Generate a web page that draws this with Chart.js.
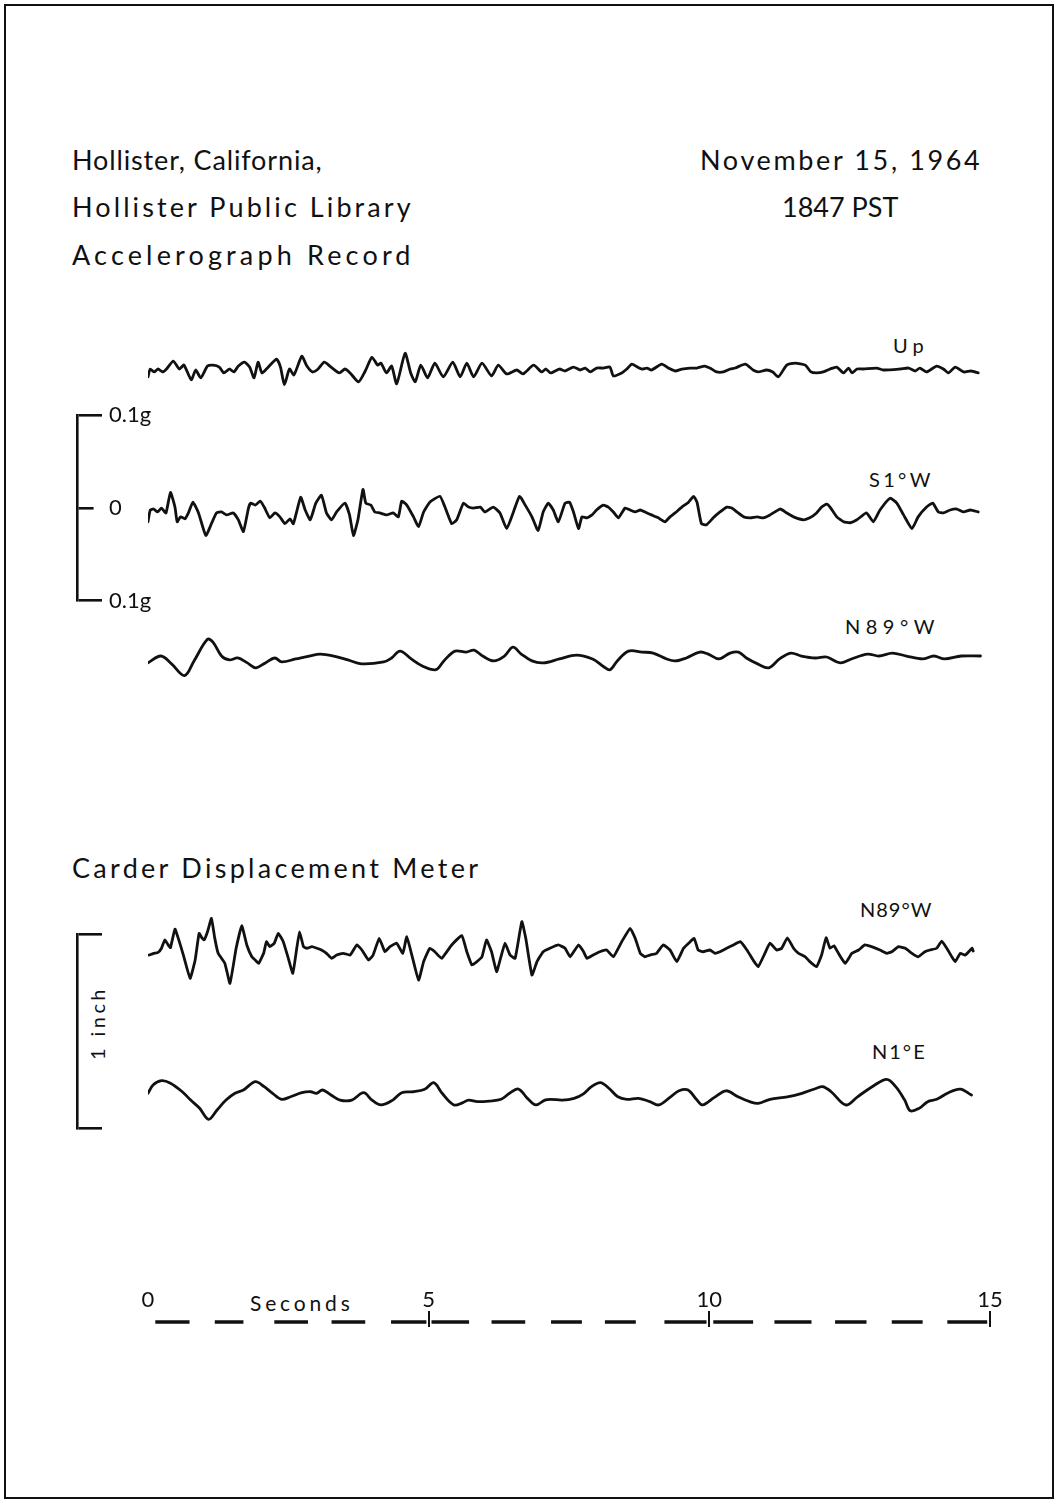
<!DOCTYPE html>
<html lang="en">
<head>
<meta charset="utf-8">
<title>Hollister accelerograph record</title>
<script src="https://cdn.jsdelivr.net/npm/chart.js@4.4.1/dist/chart.umd.min.js"></script>
<style>
  html, body { margin:0; padding:0; background:#fff; }
  body { position:relative; width:1059px; height:1503px; overflow:hidden; font-family:Lato, "Noto Sans", sans-serif; color:#111; }
  .frame { position:absolute; left:4px; top:4px; width:1046px; height:1491px; border:2.5px solid #111; }
  .t { position:absolute; white-space:nowrap; line-height:1; }
  .title { font-size:27px; }
  .lab { font-size:20px; }
  canvas { position:absolute; }
</style>
</head>
<body>
<div class="frame"></div>
<div class="t title" style="left:72px;top:146px" data-w="250">Hollister, California,</div>
<div class="t title" style="left:72px;top:193px" data-w="339">Hollister Public Library</div>
<div class="t title" style="left:72px;top:241px" data-w="338">Accelerograph Record</div>
<div class="t title" style="left:700px;top:146px" data-w="280">November 15, 1964</div>
<div class="t title" style="left:782px;top:193px" data-w="116">1847 PST</div>
<div class="t title" style="left:72px;top:854px" data-w="406">Carder Displacement Meter</div>
<div class="t lab" style="left:893px;top:335px" data-w="31">Up</div>
<div class="t lab" style="left:869px;top:469px" data-w="61">S1°W</div>
<div class="t lab" style="left:845px;top:616px" data-w="89">N89°W</div>
<div class="t lab" style="left:860px;top:899px" data-w="71">N89°W</div>
<div class="t lab" style="left:872px;top:1041px" data-w="53">N1°E</div>
<div class="t lab" style="left:250px;top:1292px;font-size:21px" data-w="100">Seconds</div>
<div class="t lab" id="inch" style="left:97px;top:1023px" data-w="70">1 inch</div>

<script>
// ---------- data read from the record (time in seconds) ----------
// Accelerograph traces, acceleration in g
const upAccel = [
[0.00,-0.007],[0.04,0.001],[0.11,-0.002],[0.18,0.001],[0.26,-0.002],[0.33,0.001],[0.45,0.009],[0.56,0.001],[0.64,0.005],[0.77,-0.010],[0.85,0.000],[0.94,-0.008],[1.06,0.004],[1.16,0.005],[1.27,0.003],[1.35,-0.003],[1.45,0.001],[1.53,-0.002],[1.61,0.004],[1.72,0.008],[1.81,0.003],[1.89,-0.008],[1.96,0.008],[2.03,-0.003],[2.11,0.001],[2.29,0.011],[2.36,0.003],[2.43,-0.015],[2.52,0.001],[2.60,-0.005],[2.74,0.014],[2.83,0.004],[2.93,-0.002],[3.03,0.001],[3.14,0.008],[3.26,0.003],[3.41,-0.003],[3.51,0.001],[3.60,-0.003],[3.75,-0.012],[3.87,-0.001],[3.99,0.013],[4.09,0.005],[4.15,0.007],[4.25,-0.003],[4.34,0.004],[4.43,-0.014],[4.58,0.017],[4.68,-0.003],[4.76,-0.012],[4.86,0.005],[4.98,-0.008],[5.11,0.007],[5.26,-0.007],[5.43,0.008],[5.56,-0.007],[5.68,0.007],[5.80,-0.007],[5.95,0.007],[6.12,-0.006],[6.24,0.005],[6.39,-0.004],[6.57,0.000],[6.68,-0.004],[6.87,0.005],[7.01,-0.002],[7.09,0.001],[7.17,-0.003],[7.33,0.001],[7.43,-0.001],[7.58,0.003],[7.70,0.000],[7.79,0.002],[7.88,-0.002],[7.99,0.002],[8.11,0.002],[8.23,0.003],[8.29,-0.006],[8.44,-0.003],[8.53,0.001],[8.62,0.006],[8.72,0.003],[8.80,0.001],[8.89,0.002],[8.97,0.000],[9.15,0.006],[9.27,0.002],[9.39,-0.001],[9.51,0.001],[9.66,0.002],[9.78,0.002],[9.92,0.004],[10.04,0.001],[10.13,-0.002],[10.25,-0.002],[10.37,0.001],[10.46,0.002],[10.64,0.006],[10.78,0.000],[10.87,-0.002],[11.02,0.000],[11.13,-0.002],[11.23,-0.007],[11.38,0.005],[11.53,0.007],[11.71,0.005],[11.81,-0.002],[11.91,-0.003],[12.03,-0.002],[12.15,0.001],[12.27,0.003],[12.39,-0.003],[12.48,0.002],[12.54,-0.003],[12.63,0.001],[12.74,0.001],[12.98,0.002],[13.10,0.000],[13.40,0.001],[13.55,0.002],[13.67,-0.001],[13.75,0.002],[13.87,-0.002],[14.05,0.004],[14.17,0.001],[14.26,-0.003],[14.38,0.003],[14.53,-0.002],[14.66,-0.001],[14.79,-0.003]
];
const s1wAccel = [
[0.00,-0.012],[0.04,0.000],[0.10,0.001],[0.17,-0.002],[0.24,0.002],[0.32,-0.003],[0.40,0.018],[0.48,0.003],[0.52,-0.012],[0.58,-0.007],[0.66,-0.009],[0.72,-0.003],[0.80,0.008],[0.90,-0.003],[1.03,-0.026],[1.13,-0.014],[1.22,-0.003],[1.31,-0.002],[1.40,-0.005],[1.52,-0.003],[1.61,-0.010],[1.70,-0.022],[1.79,0.002],[1.83,0.007],[1.91,0.005],[2.00,0.009],[2.07,0.003],[2.17,-0.008],[2.26,-0.003],[2.35,-0.007],[2.44,-0.014],[2.53,-0.009],[2.59,-0.014],[2.72,0.013],[2.80,0.000],[2.89,-0.010],[2.99,0.007],[3.09,0.015],[3.18,-0.003],[3.27,-0.010],[3.36,-0.002],[3.51,0.007],[3.59,-0.005],[3.66,-0.026],[3.74,-0.010],[3.83,0.021],[3.88,0.007],[3.97,0.005],[4.04,-0.002],[4.13,-0.003],[4.25,-0.005],[4.37,-0.003],[4.46,-0.007],[4.52,0.009],[4.61,0.005],[4.73,-0.007],[4.82,-0.017],[4.91,-0.002],[5.02,0.008],[5.20,0.014],[5.29,0.003],[5.41,-0.014],[5.50,-0.010],[5.62,0.007],[5.71,0.003],[5.80,0.002],[5.92,0.003],[6.00,-0.002],[6.15,0.003],[6.27,-0.003],[6.39,-0.019],[6.51,-0.002],[6.62,0.014],[6.72,0.005],[6.84,-0.007],[6.95,-0.021],[7.04,-0.002],[7.13,0.007],[7.22,0.000],[7.31,-0.012],[7.43,0.007],[7.51,0.008],[7.58,-0.002],[7.67,-0.019],[7.73,-0.007],[7.82,-0.008],[7.91,-0.005],[7.99,0.000],[8.11,0.005],[8.20,0.003],[8.29,-0.002],[8.38,-0.008],[8.50,0.002],[8.59,0.000],[8.68,-0.002],[8.77,0.000],[8.89,-0.003],[8.97,-0.005],[9.09,-0.008],[9.21,-0.012],[9.30,-0.007],[9.39,-0.003],[9.51,0.003],[9.63,0.008],[9.72,0.014],[9.78,0.008],[9.86,-0.014],[9.95,-0.015],[10.07,-0.008],[10.19,-0.002],[10.31,0.003],[10.40,0.002],[10.49,-0.002],[10.61,-0.007],[10.73,-0.008],[10.85,-0.007],[10.96,-0.008],[11.08,-0.005],[11.26,0.001],[11.38,-0.003],[11.50,-0.007],[11.68,-0.010],[11.79,-0.008],[11.91,-0.003],[12.00,0.003],[12.09,0.006],[12.15,0.003],[12.27,-0.007],[12.39,-0.012],[12.51,-0.013],[12.63,-0.010],[12.80,-0.003],[12.92,-0.012],[13.04,0.000],[13.22,0.012],[13.34,0.007],[13.46,-0.005],[13.61,-0.019],[13.72,-0.007],[13.87,0.003],[13.98,0.007],[14.08,-0.002],[14.17,-0.003],[14.29,0.000],[14.41,0.001],[14.53,-0.002],[14.65,0.000],[14.79,-0.002]
];
const n89wAccel = [
[0.00,-0.006],[0.23,0.001],[0.42,-0.007],[0.65,-0.019],[0.82,-0.004],[1.06,0.018],[1.16,0.015],[1.31,0.001],[1.45,-0.003],[1.60,-0.001],[1.77,-0.006],[1.92,-0.011],[2.09,-0.006],[2.26,-0.001],[2.38,-0.005],[2.63,-0.002],[2.87,0.001],[3.07,0.003],[3.31,0.001],[3.56,-0.003],[3.80,-0.007],[4.20,-0.005],[4.34,-0.001],[4.49,0.006],[4.69,-0.002],[4.88,-0.009],[5.13,-0.013],[5.27,-0.004],[5.47,0.006],[5.67,0.005],[5.81,0.007],[5.96,0.001],[6.16,-0.004],[6.35,0.001],[6.50,0.010],[6.65,0.003],[6.84,-0.004],[7.04,-0.006],[7.33,-0.002],[7.63,0.002],[7.92,-0.002],[8.12,-0.010],[8.23,-0.013],[8.36,-0.004],[8.56,0.006],[8.80,0.005],[9.00,0.004],[9.24,-0.002],[9.39,-0.004],[9.59,-0.001],[9.83,0.005],[9.98,0.003],[10.17,-0.002],[10.37,0.004],[10.52,0.005],[10.66,-0.001],[10.86,-0.007],[11.06,-0.011],[11.25,-0.002],[11.45,0.004],[11.64,0.001],[11.89,-0.001],[12.09,0.000],[12.33,-0.006],[12.53,-0.002],[12.82,0.003],[13.02,0.001],[13.26,0.004],[13.51,0.001],[13.80,-0.002],[14.00,0.001],[14.19,-0.002],[14.49,0.001],[14.83,0.001]
];
// Carder displacement meter traces, displacement in inches
const n89wDisp = [
[0.02,-0.026],[0.10,-0.017],[0.18,-0.012],[0.24,0.009],[0.30,0.052],[0.36,0.026],[0.40,0.012],[0.48,0.108],[0.54,0.060],[0.63,-0.026],[0.75,-0.146],[0.84,-0.052],[0.91,0.086],[0.96,0.063],[1.00,0.052],[1.06,0.094],[1.13,0.163],[1.19,0.060],[1.25,-0.017],[1.37,-0.069],[1.46,-0.172],[1.57,0.009],[1.67,0.125],[1.76,0.026],[1.85,-0.035],[1.91,-0.052],[1.97,-0.069],[2.06,-0.017],[2.11,0.043],[2.17,0.017],[2.25,0.035],[2.32,0.086],[2.41,0.043],[2.50,-0.043],[2.58,-0.120],[2.65,0.009],[2.70,0.094],[2.77,0.017],[2.83,0.009],[2.92,0.017],[3.01,0.009],[3.09,0.000],[3.18,-0.017],[3.27,-0.043],[3.36,-0.026],[3.48,-0.017],[3.60,-0.026],[3.72,0.026],[3.81,0.000],[3.93,-0.052],[4.01,-0.026],[4.12,0.060],[4.22,-0.009],[4.31,0.017],[4.43,0.035],[4.54,-0.017],[4.61,0.069],[4.70,-0.026],[4.82,-0.155],[4.91,-0.060],[5.02,0.009],[5.11,-0.009],[5.23,-0.043],[5.41,0.026],[5.59,0.074],[5.68,-0.009],[5.77,-0.077],[5.86,-0.060],[5.95,-0.035],[6.03,0.052],[6.12,-0.009],[6.21,-0.112],[6.28,-0.043],[6.36,0.035],[6.45,-0.026],[6.54,-0.043],[6.66,0.146],[6.73,0.060],[6.84,-0.129],[6.93,-0.060],[7.04,-0.009],[7.16,0.009],[7.31,0.026],[7.43,0.009],[7.52,-0.035],[7.67,0.026],[7.76,-0.009],[7.82,-0.043],[7.93,-0.026],[8.05,-0.009],[8.17,0.000],[8.29,-0.035],[8.44,0.043],[8.59,0.112],[8.68,0.060],[8.77,-0.017],[8.85,-0.035],[8.94,-0.026],[9.06,-0.017],[9.18,0.026],[9.30,0.000],[9.42,-0.060],[9.54,0.009],[9.66,0.043],[9.73,0.060],[9.80,0.000],[9.89,-0.009],[10.01,0.000],[10.10,-0.017],[10.19,-0.009],[10.31,0.009],[10.43,0.026],[10.55,0.043],[10.67,0.000],[10.78,-0.052],[10.87,-0.086],[10.99,-0.017],[11.08,0.035],[11.20,0.000],[11.29,0.009],[11.39,0.063],[11.50,0.009],[11.59,-0.017],[11.71,-0.035],[11.79,-0.060],[11.91,-0.086],[12.00,-0.026],[12.08,0.063],[12.15,0.009],[12.22,0.022],[12.30,-0.017],[12.42,-0.069],[12.54,-0.017],[12.66,0.000],[12.77,0.026],[12.89,0.017],[13.04,0.000],[13.16,-0.017],[13.25,-0.009],[13.37,0.017],[13.49,0.009],[13.61,-0.017],[13.72,-0.035],[13.84,-0.009],[13.93,0.000],[14.05,0.009],[14.14,0.046],[14.23,0.009],[14.32,-0.035],[14.38,-0.060],[14.47,-0.017],[14.56,-0.026],[14.68,0.009],[14.70,-0.005]
];
const n1eDisp = [
[0.00,-0.017],[0.09,0.026],[0.24,0.048],[0.40,0.035],[0.61,-0.009],[0.76,-0.052],[0.92,-0.094],[1.08,-0.151],[1.23,-0.103],[1.39,-0.052],[1.55,-0.017],[1.70,0.000],[1.91,0.043],[2.07,0.017],[2.22,-0.017],[2.38,-0.048],[2.54,-0.035],[2.74,-0.014],[2.90,-0.009],[3.00,-0.017],[3.11,0.000],[3.26,-0.026],[3.42,-0.052],[3.63,-0.052],[3.84,-0.014],[3.99,-0.052],[4.15,-0.077],[4.36,-0.052],[4.52,-0.014],[4.72,-0.009],[4.93,0.004],[5.09,0.038],[5.24,-0.017],[5.45,-0.077],[5.61,-0.065],[5.71,-0.052],[5.87,-0.060],[6.08,-0.057],[6.29,-0.048],[6.44,-0.017],[6.60,0.005],[6.76,-0.043],[6.91,-0.077],[7.07,-0.052],[7.17,-0.048],[7.38,-0.052],[7.59,-0.043],[7.75,-0.021],[7.90,0.017],[8.06,0.038],[8.21,0.009],[8.37,-0.035],[8.53,-0.048],[8.74,-0.043],[8.94,-0.060],[9.10,-0.077],[9.31,-0.035],[9.46,-0.004],[9.62,0.000],[9.78,-0.052],[9.88,-0.077],[10.09,-0.038],[10.30,-0.004],[10.51,-0.035],[10.72,-0.060],[10.87,-0.069],[11.08,-0.048],[11.39,-0.035],[11.65,-0.017],[11.91,0.009],[12.02,0.017],[12.17,-0.009],[12.43,-0.077],[12.64,-0.035],[12.90,0.017],[13.16,0.055],[13.32,0.017],[13.48,-0.052],[13.58,-0.107],[13.74,-0.094],[13.89,-0.060],[14.05,-0.048],[14.26,-0.014],[14.47,0.004],[14.67,-0.026]
];
// scale brackets and time base
const accelScaleTicks = [-0.1, 0, 0.1];        // g
const dispScaleTicks = [0, 1];                  // inch
const timeTicks = [0, 5, 10, 15];               // seconds
const timeMarks = [[0.13,0.74],[1.19,1.70],[2.25,2.85],[3.27,3.87],[4.33,4.96],[5.05,5.72],[6.12,6.72],[7.18,7.73],[8.14,8.69],[9.20,9.95],[10.07,10.78],[11.16,11.82],[12.24,12.80],[13.25,13.80],[14.24,14.95]];

// ---------- layout / style ----------
const INK = '#111';
const PX_PER_G = 980;   // drawing scale of the accelerograph traces
const PX_PER_IN = 194;  // drawing scale of the displacement traces
Chart.defaults.font.family = 'Lato, "Noto Sans", sans-serif';
Chart.defaults.color = INK;

// fit text widths to the record's spaced lettering
document.querySelectorAll('[data-w]').forEach(el => {
  el.style.letterSpacing = '0px';
  const w = el.offsetWidth;
  const n = el.textContent.length;
  el.style.letterSpacing = ((+el.dataset.w - w) / Math.max(1, n - 1)) + 'px';
});
document.getElementById('inch').style.transform = 'translate(-50%,-50%) rotate(-90deg)';

function addCanvas(left, top, w, h) {
  const c = document.createElement('canvas');
  c.width = w; c.height = h;
  c.style.left = left + 'px'; c.style.top = top + 'px';
  c.style.width = w + 'px'; c.style.height = h + 'px';
  document.body.appendChild(c);
  return c;
}
const baseOpts = { responsive:false, animation:false, events:[], plugins:{ legend:{display:false}, tooltip:{enabled:false} } };

// traces
const traces = [
  { data: upAccel,   top: 330,  h: 80,  scale: PX_PER_G,  tension: 0.2 },
  { data: s1wAccel,  top: 470,  h: 80,  scale: PX_PER_G,  tension: 0.15 },
  { data: n89wAccel, top: 617,  h: 80,  scale: PX_PER_G,  tension: 0.35 },
  { data: n89wDisp,  top: 900,  h: 100, scale: PX_PER_IN, tension: 0.12 },
  { data: n1eDisp,   top: 1040, h: 100, scale: PX_PER_IN, tension: 0.35 }
];
traces.forEach(tr => {
  const range = (tr.h / 2) / tr.scale;
  new Chart(addCanvas(138, tr.top, 862, tr.h), {
    type: 'line',
    data: { datasets: [{
      data: tr.data.map(([t, v]) => ({ x: t, y: v })),
      borderColor: INK, borderWidth: 2.8, pointRadius: 0, tension: tr.tension,
      borderJoinStyle: 'round', borderCapStyle: 'round', fill: false
    }]},
    options: Object.assign({}, baseOpts, {
      layout: { padding: { left: 10, right: 10, top: 0, bottom: 0 } },
      scales: {
        x: { type: 'linear', min: 0, max: 15, display: false },
        y: { type: 'linear', min: -range, max: range, display: false }
      }
    })
  });
});

// acceleration scale bracket (0.1g / 0 / 0.1g)
new Chart(addCanvas(60, 395, 150, 226), {
  type: 'line',
  data: { datasets: [] },
  options: Object.assign({}, baseOpts, {
    layout: { padding: { left: 0, right: 0, top: 14, bottom: 16 } },
    scales: {
      x: { type: 'linear', min: 0, max: 1, display: false },
      y: {
        type: 'linear', position: 'right', min: -0.1, max: 0.1,
        afterBuildTicks: s => { s.ticks = accelScaleTicks.map(v => ({ value: v })); },
        afterFit: s => { s.width = 133; },
        ticks: { callback: v => (v === 0 ? '0' : '0.1g'), font: { size: 22 }, color: INK, padding: 7 },
        grid: { drawOnChartArea: false, drawTicks: true, tickLength: 25, color: INK, lineWidth: 2.6,
                tickBorderDash: ctx => (ctx.tick && ctx.tick.value === 0 ? [15, 40] : []) },
        border: { display: true, color: INK, width: 2.6 }
      }
    }
  })
});

// displacement scale bracket (1 inch)
new Chart(addCanvas(60, 920, 60, 222), {
  type: 'line',
  data: { datasets: [] },
  options: Object.assign({}, baseOpts, {
    layout: { padding: { left: 0, right: 0, top: 14, bottom: 14 } },
    scales: {
      x: { type: 'linear', min: 0, max: 1, display: false },
      y: {
        type: 'linear', position: 'right', min: 0, max: 1,
        afterBuildTicks: s => { s.ticks = dispScaleTicks.map(v => ({ value: v })); },
        afterFit: s => { s.width = 43; },
        ticks: { callback: () => '' },
        grid: { drawOnChartArea: false, drawTicks: true, tickLength: 25, color: INK, lineWidth: 2.6 },
        border: { display: true, color: INK, width: 2.6 }
      }
    }
  })
});

// time base
const MARK_Y = 0.45;
const markData = [];
timeMarks.forEach(([a, b], i) => {
  markData.push({ x: a, y: MARK_Y }, { x: b, y: MARK_Y });
  if (i < timeMarks.length - 1) markData.push({ x: (b + timeMarks[i + 1][0]) / 2, y: null });
});
new Chart(addCanvas(120, 1280, 900, 47), {
  type: 'line',
  data: { datasets: [{ data: markData, borderColor: INK, borderWidth: 3.6, pointRadius: 0,
                       spanGaps: false, borderCapStyle: 'butt', tension: 0 }] },
  options: Object.assign({}, baseOpts, {
    layout: { padding: { left: 28, right: 30, top: 0, bottom: 0 } },
    scales: {
      x: {
        type: 'linear', position: 'top', min: 0, max: 15,
        afterBuildTicks: s => { s.ticks = timeTicks.map(v => ({ value: v })); },
        afterFit: s => { s.height = 36; },
        ticks: { font: { size: 22, lineHeight: 1 }, color: INK, padding: 0, maxRotation: 0, autoSkip: false },
        grid: { drawOnChartArea: true, drawTicks: true, tickLength: 5, lineWidth: 2,
                color: ctx => (ctx.tick && ctx.tick.value === 0 ? 'rgba(0,0,0,0)' : INK) },
        border: { display: false }
      },
      y: { type: 'linear', min: 0, max: 1, display: false }
    }
  })
});
</script>
</body>
</html>
